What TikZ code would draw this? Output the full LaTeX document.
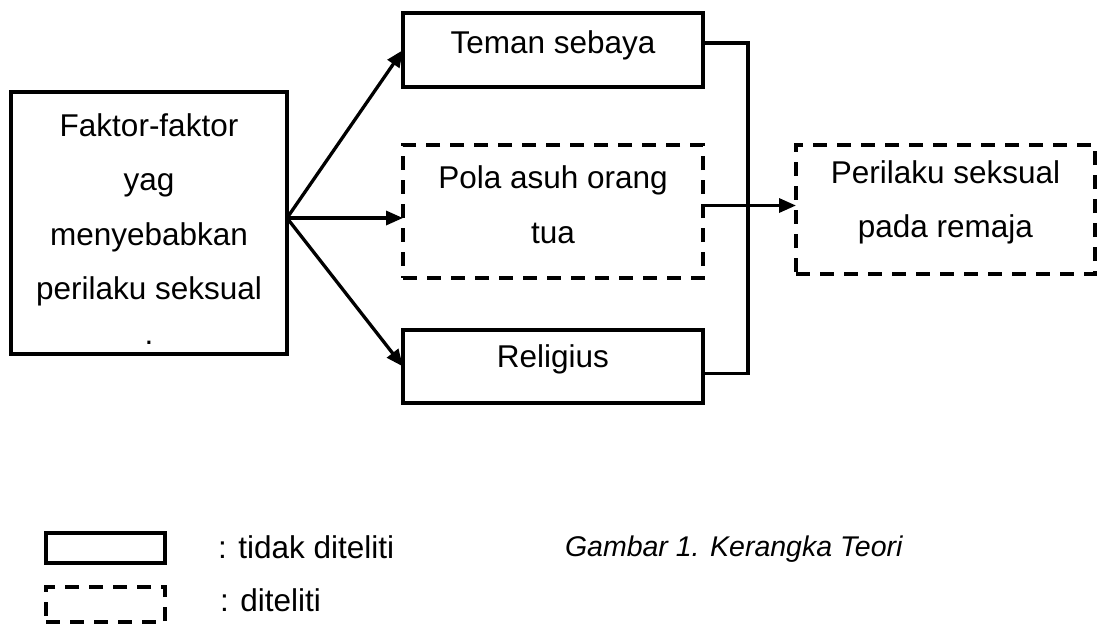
\documentclass[tikz,border=0pt]{standalone}
\usepackage{fontspec}
\setmainfont{Liberation Sans}
\usetikzlibrary{arrows.meta,calc}
\begin{document}
\begin{tikzpicture}[x=1pt,y=-1pt,
  every node/.style={inner sep=0pt,outer sep=0pt},
  solidbox/.style={draw,line width=3.3pt,rectangle},
  dashbox/.style={draw,line width=3.3pt,rectangle,dash pattern=on 14pt off 10pt},
  txt/.style={font=\fontsize{31.5}{54.5}\selectfont,align=center,yshift=7pt},
  conn/.style={line width=3.3pt},
  arr/.style={line width=3.3pt,-{Triangle[length=17pt,width=14pt]}},
  legtxt/.style={font=\fontsize{31.5}{38}\selectfont,anchor=west},
  captxt/.style={font=\fontsize{28.5}{34}\itshape,anchor=west}]
\useasboundingbox (0,0) rectangle (1101,625);
% boxes
\node[solidbox,minimum width=276pt,minimum height=262pt,
  label={[txt,yshift=-13pt]center:{Faktor-faktor\\yag\\menyebabkan\\perilaku seksual\\[-10pt].}}] (left) at (149,223) {};
\node[solidbox,minimum width=300pt,minimum height=74pt,
  label={[txt,yshift=-2pt]center:Teman sebaya}] (teman) at (553,50) {};
\node[dashbox,minimum width=300pt,minimum height=133pt,
  label={[txt]center:{Pola asuh orang\\tua}}] (pola) at (553,211.5) {};
\node[solidbox,minimum width=300pt,minimum height=73pt,
  label={[txt]center:Religius}] (religius) at (553,366.5) {};
\node[dashbox,minimum width=299pt,minimum height=129pt,
  label={[txt]center:{Perilaku seksual\\pada remaja}}] (perilaku) at (945.5,209.5) {};
% connectors
\coordinate (src) at ($(left.east)+(0,-5)$);
\coordinate (bus) at (748,200);
\draw[arr] (src) -- (teman.west);
\draw[arr] (src) -- (src -| pola.west);
\draw[arr] (src) -- (religius.west);
\coordinate (pout) at ($(pola.east)+(0,-6)$);
\draw[conn] ($(teman.east)+(0,-7)$) -| (bus) |- ($(religius.east)+(0,7)$);
\draw[arr] (pout) -- (pout -| perilaku.west);
% legend
\node[solidbox,minimum width=119pt,minimum height=30pt] (legsolid) at (105.5,548) {};
\node[dashbox,minimum width=119pt,minimum height=35pt] (legdash) at (105.5,604.5) {};
\node[legtxt] (legt1) at (218,547) {: tidak diteliti};
\node[legtxt] (legt2) at (220,600) {: diteliti};
\node[captxt] (cap) at (565,549) {Gambar 1. Kerangka Teori};
\end{tikzpicture}
\end{document}
